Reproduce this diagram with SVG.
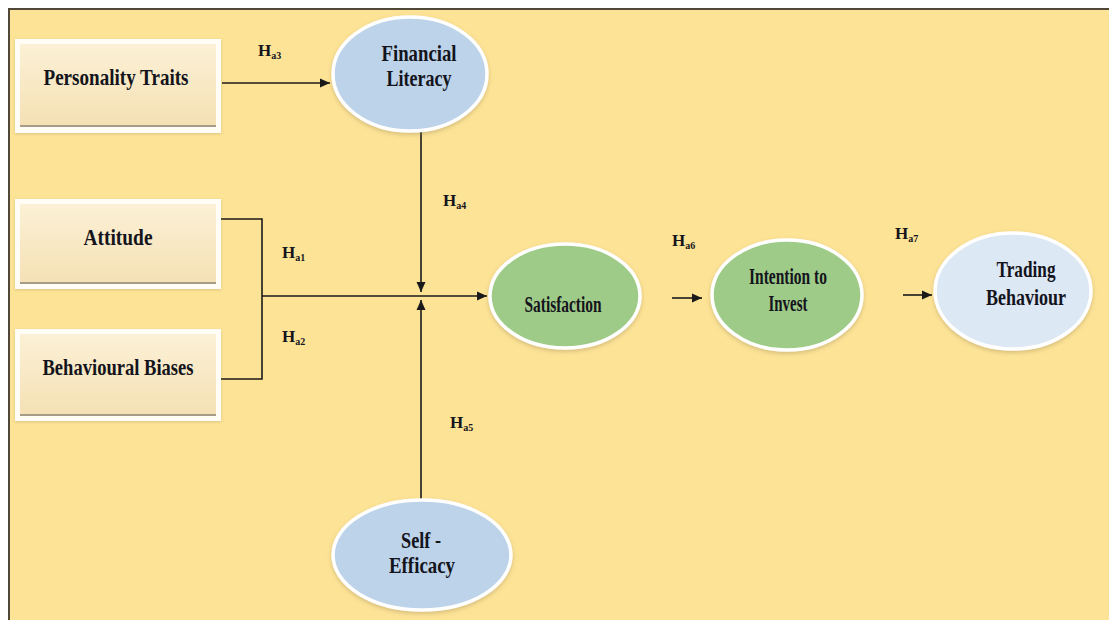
<svg xmlns="http://www.w3.org/2000/svg" width="1109" height="620" viewBox="0 0 1109 620">
  <style>
    .lbl { font-family: "Liberation Serif", "Times New Roman", serif; font-weight: bold; font-size: 23px; fill: #14141c; text-anchor: middle; }
    .hyp { font-family: "Liberation Serif", "Times New Roman", serif; font-weight: bold; font-size: 17px; fill: #14141c; }
    .hyp tspan.sub { font-size: 10px; }
    .line { fill: none; stroke: #1a1a1a; stroke-width: 1.6; }
    .frame { fill: #fffdf6; }
    .box { fill: url(#boxFill); }
    .boxEdge { stroke: #a79c86; stroke-width: 2; }
    .oval { stroke: #ffffff; stroke-width: 3.5; filter: url(#soft); }
    .blue { fill: #bcd3ea; }
    .pale { fill: #dde8f5; }
    .green { fill: #9fcb88; }
  </style>
  <defs>
    <linearGradient id="boxFill" x1="0" y1="0" x2="0" y2="1">
      <stop offset="0" stop-color="#fcf1d6"/>
      <stop offset="1" stop-color="#f4e0b3"/>
    </linearGradient>
    <filter id="soft" x="-20%" y="-20%" width="140%" height="150%">
      <feDropShadow dx="0" dy="2" stdDeviation="2" flood-color="#8a7a50" flood-opacity="0.35"/>
    </filter>
    <filter id="glow" x="-10%" y="-10%" width="120%" height="130%">
      <feDropShadow dx="0" dy="1" stdDeviation="1.5" flood-color="#8a7a50" flood-opacity="0.3"/>
    </filter>
    <marker id="arrow" viewBox="0 0 10 10" refX="10" refY="5" markerWidth="10" markerHeight="10" markerUnits="userSpaceOnUse" orient="auto">
      <path d="M0,0.5 L10,5 L0,9.5 Z" fill="#1a1a1a"/>
    </marker>
  </defs>

  <!-- page and panel -->
  <rect x="0" y="0" width="1109" height="620" fill="#ffffff"/>
  <rect x="9" y="9" width="1110" height="620" fill="#fde396" stroke="#4f4839" stroke-width="2"/>

  <!-- connectors -->
  <g id="connectors">
    <line class="line" x1="222" y1="83" x2="330" y2="83" marker-end="url(#arrow)"/>
    <polyline class="line" points="220,219 262,219 262,379 220,379"/>
    <line class="line" x1="262" y1="296" x2="487" y2="296" marker-end="url(#arrow)"/>
    <line class="line" x1="421" y1="131" x2="421" y2="292" marker-end="url(#arrow)"/>
    <line class="line" x1="421" y1="500" x2="421" y2="300" marker-end="url(#arrow)"/>
    <line class="line" x1="672" y1="298" x2="702" y2="298" marker-end="url(#arrow)"/>
    <line class="line" x1="903" y1="295" x2="932" y2="295" marker-end="url(#arrow)"/>
  </g>

  <!-- hypothesis labels -->
  <g id="hypotheses">
    <text class="hyp" x="258" y="56">H<tspan class="sub" dy="3">a3</tspan></text>
    <text class="hyp" x="443" y="206">H<tspan class="sub" dy="3">a4</tspan></text>
    <text class="hyp" x="282" y="258">H<tspan class="sub" dy="3">a1</tspan></text>
    <text class="hyp" x="282" y="342">H<tspan class="sub" dy="3">a2</tspan></text>
    <text class="hyp" x="450" y="428">H<tspan class="sub" dy="3">a5</tspan></text>
    <text class="hyp" x="672" y="246">H<tspan class="sub" dy="3">a6</tspan></text>
    <text class="hyp" x="895" y="239">H<tspan class="sub" dy="3">a7</tspan></text>
  </g>

  <!-- exogenous constructs -->
  <g id="personality-traits">
    <rect class="frame" x="15" y="39" width="206" height="94" filter="url(#glow)"/>
    <rect class="box" x="20" y="44" width="196" height="83"/>
    <line class="boxEdge" x1="20" y1="126" x2="216" y2="126"/>
    <text class="lbl" x="116" y="85" textLength="145" lengthAdjust="spacingAndGlyphs">Personality Traits</text>
  </g>
  <g id="attitude">
    <rect class="frame" x="15" y="199" width="206" height="90" filter="url(#glow)"/>
    <rect class="box" x="20" y="204" width="196" height="80"/>
    <line class="boxEdge" x1="20" y1="283" x2="216" y2="283"/>
    <text class="lbl" x="118" y="245" textLength="69" lengthAdjust="spacingAndGlyphs">Attitude</text>
  </g>
  <g id="behavioural-biases">
    <rect class="frame" x="15" y="329" width="206" height="92" filter="url(#glow)"/>
    <rect class="box" x="20" y="334" width="196" height="82"/>
    <line class="boxEdge" x1="20" y1="415" x2="216" y2="415"/>
    <text class="lbl" x="118" y="375" textLength="151" lengthAdjust="spacingAndGlyphs">Behavioural Biases</text>
  </g>

  <!-- moderators -->
  <g id="financial-literacy">
    <ellipse class="oval blue" cx="410" cy="74" rx="77" ry="57"/>
    <text class="lbl" x="419" y="61" textLength="75" lengthAdjust="spacingAndGlyphs">Financial</text>
    <text class="lbl" x="419" y="86" textLength="65" lengthAdjust="spacingAndGlyphs">Literacy</text>
  </g>
  <g id="self-efficacy">
    <ellipse class="oval blue" cx="422" cy="555" rx="89" ry="55"/>
    <text class="lbl" x="421" y="548" textLength="40" lengthAdjust="spacingAndGlyphs">Self -</text>
    <text class="lbl" x="422" y="573" textLength="66" lengthAdjust="spacingAndGlyphs">Efficacy</text>
  </g>

  <!-- outcome chain -->
  <g id="satisfaction">
    <ellipse class="oval green" cx="565" cy="296" rx="75" ry="52"/>
    <text class="lbl" x="563" y="312" textLength="77" lengthAdjust="spacingAndGlyphs">Satisfaction</text>
  </g>
  <g id="intention-to-invest">
    <ellipse class="oval green" cx="787" cy="295" rx="75" ry="55"/>
    <text class="lbl" x="788" y="284" textLength="78" lengthAdjust="spacingAndGlyphs">Intention to</text>
    <text class="lbl" x="788" y="311" textLength="39" lengthAdjust="spacingAndGlyphs">Invest</text>
  </g>
  <g id="trading-behaviour">
    <ellipse class="oval pale" cx="1013" cy="291" rx="78" ry="58"/>
    <text class="lbl" x="1026" y="277" textLength="59" lengthAdjust="spacingAndGlyphs">Trading</text>
    <text class="lbl" x="1026" y="305" textLength="80" lengthAdjust="spacingAndGlyphs">Behaviour</text>
  </g>
</svg>
